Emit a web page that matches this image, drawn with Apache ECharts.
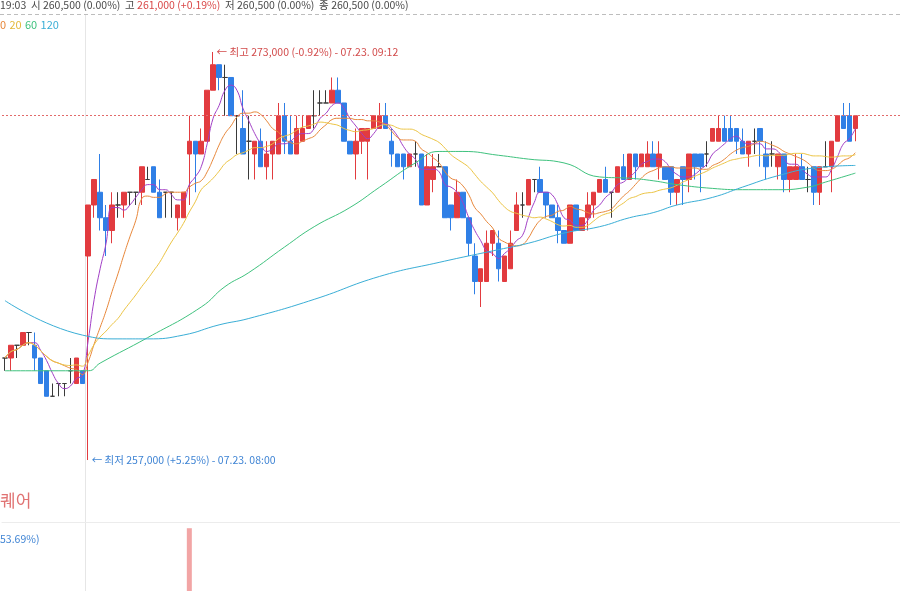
<!DOCTYPE html>
<html>
<head>
<meta charset="utf-8">
<script src="https://cdn.jsdelivr.net/npm/echarts@6/dist/echarts.min.js"></script>
<style>
html, body { margin: 0; padding: 0; background: #fff; }
#chart { width: 900px; height: 591px; }
</style>
</head>
<body>
<div id="chart"></div>
<script>
// 3-minute candles: prev evening session, then 08:00 pre-market, then 09:00 main session
const sessions = [['19:18', 14], ['08:00', 17], ['09:00', 120]];
const times = [];
sessions.forEach(([start, count]) => {
  let [h, m] = start.split(':').map(Number);
  for (let k = 0; k < count; k++) {
    times.push(String(h).padStart(2, '0') + ':' + String(m).padStart(2, '0'));
    m += 3;
    if (m >= 60) { m -= 60; h += 1; }
  }
});

const opens = [
  261000, 261000, 261500, 261500, 262000, 261500, 261000, 260500, 259500, 260000,
  260000, 260500, 260000, 260500, 265000, 267000, 267500, 266500, 266000, 267000,
  267000, 267500, 267500, 267500, 268000, 268500, 267500, 267500, 267500, 266500,
  266500, 269000, 269500, 269000, 269500, 271500, 272500, 272000, 272000, 270500,
  270000, 269500, 269000, 269500, 268500, 269000, 269000, 270500, 269500, 269000,
  269500, 270000, 270500, 271000, 271000, 271000, 271500, 271000, 269500, 269000,
  269500, 269500, 270000, 270000, 270500, 269500, 269000, 269000, 268500, 269000,
  269000, 267000, 268000, 268500, 268500, 267000, 266500, 267500, 266500, 265000,
  264000, 264000, 265500, 265500, 264000, 264500, 266000, 267000, 267000, 268000,
  268000, 267500, 267000, 266500, 266000, 265500, 267000, 266000, 266500, 267000,
  267500, 268000, 267500, 267500, 268500, 268000, 269000, 268500, 268500, 269000,
  268500, 268500, 268500, 267500, 268500, 268000, 269000, 269000, 269000, 269500,
  269500, 270000, 270000, 270000, 269500, 269000, 269500, 270000, 269000, 269000,
  268500, 269000, 268000, 268000, 268500, 268000, 268500, 267500, 268500, 268500,
  269500, 270500, 270500, 270000];

const closes = [
  261000, 261500, 261500, 262000, 262000, 261000, 260000, 259500, 259500, 260000,
  260000, 260500, 261000, 260000, 267000, 268000, 266500, 266000, 267000, 267000,
  267500, 267500, 267500, 268500, 268000, 267500, 266500, 267500, 267500, 267000,
  267500, 269500, 269000, 269500, 271500, 272500, 272000, 272000, 270500, 270500,
  269000, 269500, 269500, 268500, 269000, 269500, 270500, 269500, 269000, 270000,
  270000, 270500, 270500, 271000, 271000, 271500, 271000, 269500, 269000, 269500,
  270000, 270000, 270500, 270500, 270000, 269000, 268500, 268500, 269000, 269000,
  267000, 268500, 268500, 268500, 266500, 266500, 267500, 266500, 265500, 264000,
  264500, 265500, 266000, 264500, 265000, 265500, 267000, 267000, 268000, 268000,
  267500, 267000, 266500, 266000, 265500, 267000, 266000, 266500, 267000, 267500,
  268000, 267500, 267500, 268500, 268000, 269000, 268500, 269000, 269000, 268500,
  269000, 268000, 267500, 268000, 268000, 269000, 268500, 268500, 269000, 270000,
  270000, 269500, 269500, 269500, 269000, 269500, 269500, 269500, 268500, 269000,
  269000, 268000, 268500, 268500, 268000, 268000, 267500, 268500, 268500, 269500,
  270500, 270000, 269500, 270500];

const lows = [
  260500, 260500, 261000, 261500, 261500, 260500, 260000, 259500, 259500, 259500,
  259500, 260000, 260000, 260000, 257000, 266500, 266000, 265000, 265500, 266500,
  266500, 267000, 267000, 267000, 268000, 267500, 266500, 266500, 266500, 266000,
  266500, 267000, 267500, 269000, 269500, 271500, 271500, 270500, 270500, 269000,
  269000, 268000, 268000, 268500, 268000, 268000, 269000, 269000, 269000, 269000,
  269500, 270000, 270000, 270500, 271000, 271000, 271000, 269500, 269000, 268000,
  269000, 268000, 270000, 270000, 270000, 268500, 268500, 268000, 268500, 268500,
  267000, 267000, 267500, 268500, 266500, 266000, 266500, 266500, 265000, 263500,
  263000, 264000, 265000, 264000, 264000, 264500, 266000, 266500, 267000, 267500,
  267500, 266500, 266500, 265500, 265500, 265500, 266000, 266000, 266000, 266500,
  267500, 267500, 266500, 267500, 268000, 268000, 268000, 268500, 268500, 268500,
  268000, 268000, 267000, 267000, 267000, 267500, 268000, 267500, 268500, 269500,
  269500, 269500, 269500, 269000, 269000, 268500, 269000, 268500, 268000, 268500,
  268000, 267500, 267500, 268000, 268000, 267500, 267000, 267000, 268500, 267500,
  269500, 270000, 269500, 269500];

const highs = [
  261000, 261500, 261500, 262000, 262000, 262000, 261000, 260500, 260000, 260000,
  260000, 261000, 261000, 260500, 267000, 268000, 269000, 267000, 267500, 267500,
  267500, 267500, 267500, 268500, 268500, 268500, 268000, 267500, 267500, 267000,
  267500, 270500, 269500, 270000, 271500, 273000, 272500, 272500, 272000, 270500,
  271500, 270500, 269500, 270000, 269500, 269500, 271000, 271000, 270500, 270500,
  270500, 270500, 271500, 271500, 271500, 272000, 272000, 271000, 269500, 270000,
  270000, 270000, 270500, 271000, 271000, 270000, 269000, 269000, 269000, 269500,
  269000, 269000, 269000, 269000, 268500, 267000, 268000, 267500, 266500, 265500,
  264500, 266000, 266000, 266000, 265000, 266000, 267500, 267500, 268000, 268000,
  268500, 267500, 267000, 267000, 266000, 267000, 267000, 266500, 267500, 267500,
  268000, 268500, 267500, 268500, 269000, 269000, 269000, 269000, 269500, 269500,
  269500, 268500, 268500, 268000, 268500, 269000, 269000, 269000, 269500, 270000,
  270500, 270500, 270500, 270000, 270000, 269500, 270000, 270000, 269500, 269500,
  269000, 269000, 268500, 269000, 269000, 268500, 268500, 268500, 269500, 269500,
  270500, 271000, 271000, 270500];

const ma60Times = ['19:18', '08:00', '08:06', '08:30', '09:06', '09:18', '09:30', '09:48', '10:03', '10:21',
  '10:36', '10:54', '11:06', '11:18', '11:36', '11:51', '12:09', '12:27', '12:42', '12:54',
  '13:06', '13:24', '13:39', '13:57', '14:12', '14:21', '14:36'];
const ma60Values = [260500, 260500, 260800, 261800, 263000, 263800, 264350, 265350, 266150, 266900,
  267700, 268650, 269100, 269100, 268950, 268800, 268650, 268100, 268050, 267950,
  267800, 267650, 267600, 267600, 267700, 267900, 268250];

const ma120Times = ['19:18', '19:57', '08:15', '08:30', '08:48', '09:15', '09:30', '10:03', '10:36', '11:06',
  '11:36', '11:51', '12:09', '12:27', '12:42', '12:54', '13:06', '13:24', '13:39', '13:57',
  '14:15', '14:36'];
const ma120Values = [263250, 261900, 261750, 261750, 261900, 262300, 262550, 263300, 264200, 264750,
  265250, 265500, 265900, 266150, 266500, 266700, 267000, 267300, 267700, 268150,
  268450, 268550];

const volumeTimes = ['09:00'];
const volumeValues = [455000];

const lastPrice = 270500;
const highPoint = { time: '09:12', price: 273000, text: '← 최고 273,000 (-0.92%) - 07.23. 09:12' };
const lowPoint = { time: '08:00', price: 257000, text: '← 최저 257,000 (+5.25%) - 07.23. 08:00' };
const dayBreakTime = '08:00';

const FONT = '"Noto Sans CJK KR", "Noto Sans", sans-serif';

function calcMA(win) {
  return closes.map((c, i) => {
    const from = Math.max(0, i - win + 1);
    let sum = 0;
    for (let k = from; k <= i; k++) sum += closes[k];
    return Math.round(sum / (i - from + 1));
  });
}

const candleData = opens.map((o, i) => [o, closes[i], lows[i], highs[i]]);
const volumeData = times.map(t => {
  const k = volumeTimes.indexOf(t);
  return k >= 0 ? volumeValues[k] : '-';
});

const maLine = (name, data, color) => ({
  type: 'line',
  name,
  data,
  xAxisIndex: 0,
  yAxisIndex: 0,
  symbol: 'none',
  smooth: true,
  connectNulls: true,
  lineStyle: { width: 1, color },
  silent: true,
  z: 3
});

const chart = echarts.init(document.getElementById('chart'));

const option = {
  animation: false,
  backgroundColor: '#fff',
  grid: [
    { left: 2, right: 0, top: 15, height: 507 },
    { left: 2, right: 0, top: 522, height: 200 }
  ],
  xAxis: [
    {
      type: 'category',
      gridIndex: 0,
      data: times,
      boundaryGap: true,
      axisLine: { show: true, lineStyle: { color: '#ececec', width: 1 } },
      axisTick: { show: false },
      axisLabel: { show: false },
      splitLine: { show: false }
    },
    {
      type: 'category',
      gridIndex: 1,
      data: times,
      boundaryGap: true,
      axisLine: { show: false },
      axisTick: { show: false },
      axisLabel: { show: false },
      splitLine: { show: false }
    }
  ],
  yAxis: [
    {
      type: 'value',
      gridIndex: 0,
      min: 254570,
      max: 274450,
      show: false,
      splitLine: { show: false }
    },
    {
      type: 'value',
      gridIndex: 1,
      min: 0,
      max: 500000,
      show: false,
      splitLine: { show: false }
    }
  ],
  series: [
    {
      type: 'candlestick',
      name: 'price',
      data: candleData,
      barWidth: 5,
      xAxisIndex: 0,
      yAxisIndex: 0,
      itemStyle: {
        color: '#e23b3f',
        color0: '#2f7fe6',
        borderColor: '#e23b3f',
        borderColor0: '#2f7fe6',
        borderColorDoji: '#3a3a3a',
        borderWidth: 1
      },
      markLine: {
        silent: true,
        symbol: ['none', 'none'],
        label: { show: false },
        lineStyle: { color: '#e26a6a', type: [2, 2], width: 1 },
        data: [{ yAxis: lastPrice }]
      },
      markPoint: {
        symbol: 'circle',
        symbolSize: 1,
        itemStyle: { color: 'rgba(0,0,0,0)' },
        label: { show: true, position: 'right', distance: 3, fontSize: 10.5, fontFamily: FONT },
        data: [
          {
            coord: [highPoint.time, highPoint.price],
            label: { formatter: highPoint.text, color: '#d24b4b' }
          },
          {
            coord: [lowPoint.time, lowPoint.price],
            label: { formatter: lowPoint.text, color: '#3f84d4' }
          }
        ]
      }
    },
    maLine('MA5', calcMA(5), '#a23fc6'),
    maLine('MA10', calcMA(10), '#e8873a'),
    maLine('MA20', calcMA(20), '#ecc443'),
    maLine('MA60', ma60Times.map((t, i) => [t, ma60Values[i]]), '#3fc27e'),
    maLine('MA120', ma120Times.map((t, i) => [t, ma120Values[i]]), '#3aaed6'),
    {
      type: 'bar',
      name: 'volume',
      data: volumeData,
      xAxisIndex: 1,
      yAxisIndex: 1,
      barWidth: 5,
      itemStyle: { color: '#f2a5a5' },
      silent: true
    }
  ],
  graphic: [
    {
      id: 'headRule',
      type: 'line',
      shape: { x1: 0, y1: 14.5, x2: 900, y2: 14.5 },
      style: { stroke: '#bdbdbd', lineWidth: 1, lineDash: [4, 3] },
      silent: true
    },
    {
      id: 'header',
      type: 'text',
      x: 0,
      y: 5,
      style: {
        text: '{n|19:03  시 260,500 (0.00%)  고 }{r|261,000 (+0.19%)}{n|  저 260,500 (0.00%)  종 260,500 (0.00%)}',
        verticalAlign: 'middle',
        rich: {
          n: { fontSize: 10.5, fontFamily: FONT, fill: '#4a4a4a' },
          r: { fontSize: 10.5, fontFamily: FONT, fill: '#d94848' }
        }
      },
      silent: true
    },
    {
      id: 'maLegend',
      type: 'text',
      x: 0,
      y: 25,
      style: {
        text: '{o|0} {y|20} {g|60} {t|120}',
        verticalAlign: 'middle',
        rich: {
          o: { fontSize: 11, fontFamily: FONT, fill: '#e8873a' },
          y: { fontSize: 11, fontFamily: FONT, fill: '#e3b93a' },
          g: { fontSize: 11, fontFamily: FONT, fill: '#3fc27e' },
          t: { fontSize: 11, fontFamily: FONT, fill: '#3aaed6' }
        }
      },
      silent: true
    },
    {
      id: 'stockName',
      type: 'text',
      x: 0,
      y: 501,
      style: {
        text: '퀘어',
        fontSize: 17,
        fontFamily: FONT,
        fill: '#e07272',
        verticalAlign: 'middle'
      },
      silent: true
    },
    {
      id: 'volLabel',
      type: 'text',
      x: 0,
      y: 539,
      style: {
        text: '53.69%)',
        fontSize: 10.5,
        fontFamily: FONT,
        fill: '#3f84d4',
        verticalAlign: 'middle'
      },
      silent: true
    }
  ]
};

chart.setOption(option);

// day separator sits on the band edge before the first 08:00 candle
const breakIdx = times.indexOf(dayBreakTime);
const xPrev = chart.convertToPixel({ xAxisIndex: 0 }, times[breakIdx - 1]);
const xCur = chart.convertToPixel({ xAxisIndex: 0 }, times[breakIdx]);
const breakX = Math.round((xPrev + xCur) / 2) + 0.5;
chart.setOption({
  graphic: [{
    id: 'dayBreak',
    type: 'line',
    z: 0,
    shape: { x1: breakX, y1: 15, x2: breakX, y2: 591 },
    style: { stroke: '#e6e6e6', lineWidth: 1 },
    silent: true
  }]
});
</script>
</body>
</html>
